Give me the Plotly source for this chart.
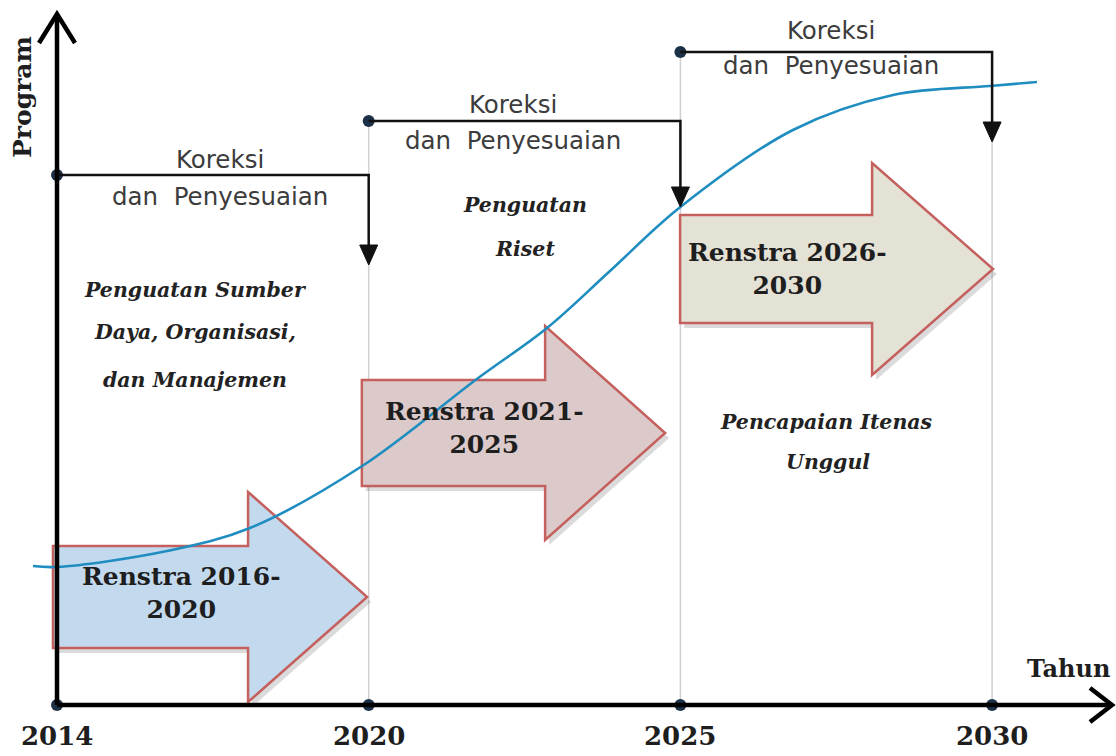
import plotly.graph_objects as go

# ---------------- data ----------------
years = ["2014", "2020", "2025", "2030"]
year_pos = [0, 1, 2, 3]

# S-curve of programme achievement (x in period index, y in level units)
curve_x = [-0.077, 0.0, 0.353, 0.619, 0.979, 1.347, 1.572, 1.774, 1.996, 2.361,
           2.682, 2.993, 3.144]
curve_y = [139, 138, 154, 177, 239, 326, 377, 434, 497, 575,
           610, 619, 623]

renstra_labels = ["Renstra 2016-<br>2020", "Renstra 2021-<br>2025", "Renstra 2026-<br>2030"]
renstra_fill = ["#c3daee", "#dccaca", "#e4e1d5"]

theme_lines = [
    ["Penguatan Sumber", "Daya, Organisasi,", "dan Manajemen"],
    ["Penguatan", "Riset"],
    ["Pencapaian Itenas", "Unggul"],
]

koreksi_text = ["Koreksi", "dan  Penyesuaian"]

# ---------------- geometry (style / layout) ----------------
PX = 311.7  # pixels per period
XR = [-57 / PX, (1116 - 57) / PX]
YR = [-51, 705]

def dx(p):
    return p / PX

# block arrows: left, head start, tip, centre level, body half, head half
arr_left = [-0.013, 0.978, 1.999]
arr_head = [0.613, 1.566, 2.615]
arr_tip = [0.995, 1.951, 3.003]
arr_mid = [108, 272, 436]
arr_body = [51, 53, 54]
arr_headh = [105, 107, 106]
lab_x = [0.400, 1.373, 2.345]
lab_y = [112, 277, 436]

# correction brackets: start index, end index, line level, tip level
br_start = [0, 1, 2]
br_end = [1, 2, 3]
br_level = [530, 584, 653]
br_tip = [440, 498, 563]
kor_x = [0.523, 1.463, 2.483]
kor_y1 = [546, 601, 675]
kor_y2 = [509, 565, 640]

theme_x = [[0.443, 0.443, 0.443], [1.500, 1.500], [2.470, 2.473]]
theme_y = [[415, 373, 325], [500, 456], [283, 243]]

grid_top = [584, 653, 563]

fig = go.Figure()
shapes = []
annotations = []

# grid lines
for i, g in enumerate(grid_top):
    shapes.append(dict(type="line", x0=year_pos[i + 1], x1=year_pos[i + 1], y0=0, y1=g,
                       line=dict(color="#cfcfd4", width=1.5), layer="below"))

# block arrows with shadow
def arrow_path(l, h, t, m, b, hh, ox=0.0, oy=0.0):
    pts = [(l, m + b), (h, m + b), (h, m + hh), (t, m), (h, m - hh), (h, m - b), (l, m - b)]
    s = "M " + " L ".join(f"{x + ox},{y + oy}" for x, y in pts) + " Z"
    return s

for i in range(3):
    shapes.append(dict(type="path",
                       path=arrow_path(arr_left[i], arr_head[i], arr_tip[i], arr_mid[i],
                                       arr_body[i], arr_headh[i], dx(4), -5),
                       fillcolor="rgba(90,90,90,0.22)", line=dict(width=0), layer="below"))
    shapes.append(dict(type="path",
                       path=arrow_path(arr_left[i], arr_head[i], arr_tip[i], arr_mid[i],
                                       arr_body[i], arr_headh[i]),
                       fillcolor=renstra_fill[i], line=dict(color="#c4605e", width=2.5),
                       layer="below"))
    annotations.append(dict(x=lab_x[i], y=lab_y[i], xref="x", yref="y", showarrow=False,
                            text="<b>" + renstra_labels[i] + "</b>",
                            font=dict(family="DejaVu Serif", size=25, color="#1e1e1e"),
                            align="center"))

# correction brackets
for i in range(3):
    xs, xe = year_pos[br_start[i]], year_pos[br_end[i]]
    shapes.append(dict(type="path",
                       path=f"M {xs},{br_level[i]} L {xe},{br_level[i]} L {xe},{br_tip[i] + 18}",
                       line=dict(color="#111111", width=2.5)))
    shapes.append(dict(type="path",
                       path=f"M {xe - dx(9)},{br_tip[i] + 20} L {xe + dx(9)},{br_tip[i] + 20} L {xe},{br_tip[i]} Z",
                       fillcolor="#111111", line=dict(color="#111111", width=1)))
    annotations.append(dict(x=kor_x[i], y=kor_y1[i], xref="x", yref="y", showarrow=False,
                            text=koreksi_text[0],
                            font=dict(family="DejaVu Sans", size=24.5, color="#3c3c3c")))
    annotations.append(dict(x=kor_x[i], y=kor_y2[i], xref="x", yref="y", showarrow=False,
                            text=koreksi_text[1],
                            font=dict(family="DejaVu Sans", size=24.5, color="#3c3c3c")))

# theme texts
for i, lines in enumerate(theme_lines):
    for j, t in enumerate(lines):
        annotations.append(dict(x=theme_x[i][j], y=theme_y[i][j], xref="x", yref="y",
                                showarrow=False, text="<b><i>" + t + "</i></b>",
                                font=dict(family="DejaVu Serif", size=20.5, color="#222222")))

# axes
axis_top = 691
axis_right = (1112 - 57) / PX
shapes.append(dict(type="line", x0=0, x1=0, y0=0, y1=axis_top, line=dict(color="#000", width=4.5)))
shapes.append(dict(type="path",
                   path=f"M {-dx(18)},{axis_top - 29} L 0,{axis_top} L {dx(18)},{axis_top - 29}",
                   line=dict(color="#000", width=4.5)))
shapes.append(dict(type="line", x0=0, x1=axis_right, y0=0, y1=0, line=dict(color="#000", width=4.5)))
shapes.append(dict(type="path",
                   path=f"M {axis_right - dx(22)},17 L {axis_right},0 L {axis_right - dx(22)},-17",
                   line=dict(color="#000", width=4.5)))

# curve
fig.add_trace(go.Scatter(x=curve_x, y=curve_y, mode="lines", line=dict(color="#1f8dc0", width=2.6,
                         shape="spline", smoothing=1.0), hoverinfo="skip", showlegend=False))

# dots
dot_x = year_pos + [0, 1, 2]
dot_y = [0, 0, 0, 0] + br_level
fig.add_trace(go.Scatter(x=dot_x, y=dot_y, mode="markers",
                         marker=dict(size=12, color="#1c3047"), hoverinfo="skip", showlegend=False))

# year labels
for i, yv in enumerate(years):
    annotations.append(dict(x=year_pos[i], y=-31, xref="x", yref="y", showarrow=False,
                            text="<b>" + yv + "</b>",
                            font=dict(family="DejaVu Serif", size=26, color="#1e1e1e")))
annotations.append(dict(x=(1068 - 57) / PX, y=37, xref="x", yref="y", showarrow=False,
                        text="<b>Tahun</b>", font=dict(family="DejaVu Serif", size=24, color="#1e1e1e")))
annotations.append(dict(x=-35 / PX, y=705 - 97, xref="x", yref="y", showarrow=False, textangle=-90,
                        text="<b>Program</b>", font=dict(family="DejaVu Serif", size=25, color="#1e1e1e")))

fig.update_layout(
    width=1116, height=756, margin=dict(l=0, r=0, t=0, b=0),
    paper_bgcolor="white", plot_bgcolor="white",
    xaxis=dict(range=XR, visible=False, fixedrange=True),
    yaxis=dict(range=YR, visible=False, fixedrange=True),
    shapes=shapes, annotations=annotations, showlegend=False,
)

fig.write_html("out.html", config={"displayModeBar": False},
               post_script="document.body.style.margin='0';document.body.style.overflow='hidden';")
